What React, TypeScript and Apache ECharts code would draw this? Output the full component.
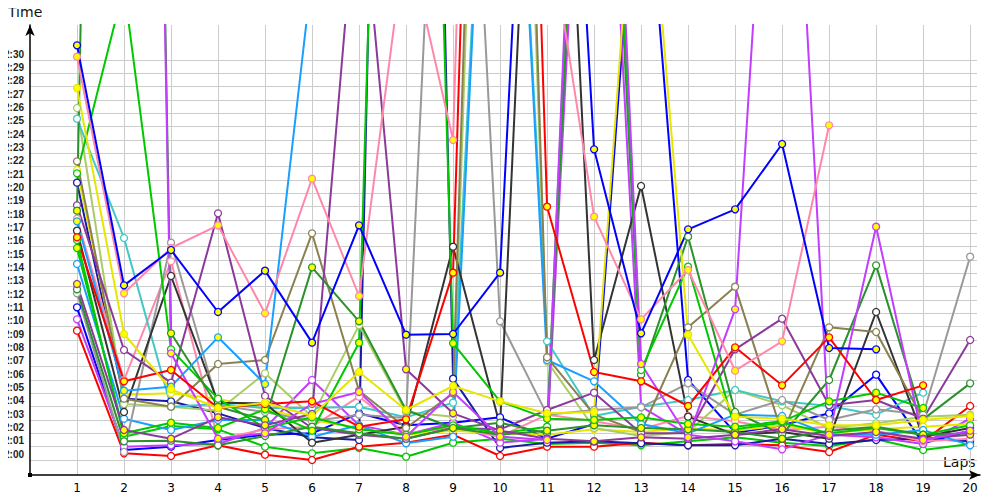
import React, { useEffect, useRef } from "react";
import * as echarts from "echarts";

// Lap numbers (x axis)
const laps = [1, 2, 3, 4, 5, 6, 7, 8, 9, 10, 11, 12, 13, 14, 15, 16, 17, 18, 19, 20];
// Y tick labels, 2:00 .. 2:30
const yTickLabels = [
  "2:00", "2:01", "2:02", "2:03", "2:04", "2:05", "2:06", "2:07", "2:08", "2:09", "2:10",
  "2:11", "2:12", "2:13", "2:14", "2:15", "2:16", "2:17", "2:18", "2:19", "2:20",
  "2:21", "2:22", "2:23", "2:24", "2:25", "2:26", "2:27", "2:28", "2:29", "2:30",
];

// Lap times in seconds per driver (null = no lap)
const blueA = [151.1, 133.1, 135.75, 131.1, 134.2, 128.8, 137.6, 129.4, 129.45, 134.05, 204, 143.3, 129.5, 137.3, 138.8, 143.7, 128.4, 128.3, null, null];
const pinkA = [150.25, 132.5, 135.9, 137.6, 131.0, 141.1, 132.3, 159.5, 144.0, 260, 161, 138.25, 130.55, 134.25, 126.7, 128.9, 145.1, null, null, null];
const yellowA = [147.9, 129.45, 125.3, 123.9, 124.3, 123.3, 126.6, 123.75, 125.55, 124.4, 123.5, 123.6, 172, 129.4, 123.25, 123.1, 122.6, 122.6, 123.0, 123.3];
const redA = [136.7, 125.9, 126.75, 123.9, 124.2, 124.4, 122.5, 123.05, 134.05, 250, 139.0, 126.6, 125.9, 124.05, 128.45, 125.6, 129.2, 124.5, 125.6, null];
const redB = [129.7, 120.5, 120.3, 121.1, 120.4, 120.0, 121.0, 121.3, 121.9, 120.3, 121.0, 121.0, 121.3, 121.1, 121.2, 121.1, 120.6, 121.9, 121.4, 124.05];
const purpleA = [139.1, 128.25, 125.8, 138.5, 124.8, 122.4, 121.9, 121.6, 122.4, 122.3, 123.75, 125.05, 122.0, 122.0, 128.3, 130.6, 124.1, 124.5, 123.1, 129.0];
const purpleB = [133.2, 122.25, 121.6, 123.2, 122.6, 123.45, 165, 126.8, 123.5, 122.2, 121.6, 121.4, 121.7, 121.6, 121.9, 122.3, 121.8, 122.1, 121.6, 121.9];
const violetA = [130.55, 121.0, 121.1, 121.2, 122.4, 126.0, 122.6, 121.9, 122.8, 121.3, 121.6, 190, 124.0, 121.9, 121.4, 120.8, 121.9, 121.7, 121.2, 123.1];
const violetB = [null, 320, 128.0, 121.6, 122.0, 124.2, 125.1, 121.75, 125.1, 121.75, 121.5, 205, 127.2, 121.7, 131.3, 187, 121.9, 137.5, 121.5, 122.2];
const greenA = [141.5, 155.5, 128.3, 124.6, 122.4, 123.2, 122.3, 121.9, 122.6, 122.0, 122.5, 200, 126.75, 134.5, 122.3, 122.8, 122.0, 122.4, 121.9, 122.6];
const greenB = [135.9, 122.0, 122.8, 122.4, 123.8, 122.2, 128.8, 250, 128.75, 124.4, 123.1, 123.0, 123.2, 122.7, 122.5, 122.9, 124.4, 125.05, 123.9, null];
const greenC = [136.5, 121.75, 122.55, 122.3, 121.0, 120.5, 120.9, 120.25, 121.3, 121.6, 121.2, 121.3, 121.1, 121.4, 121.7, 121.3, 121.05, 121.55, 120.75, 121.2];
const darkGreenA = [138.7, 320, 129.5, 124.0, 123.0, 134.45, 130.4, 123.75, 122.4, 121.9, 122.2, 122.6, 122.4, 122.3, 122.1, 121.6, 122.2, 122.5, 121.9, 122.0];
const darkGreenB = [132.8, 121.4, 121.45, 121.1, 121.8, 122.5, 122.0, 121.6, 122.4, 122.8, 122.0, 195, 126.4, 136.75, 123.6, 121.9, 126.0, 134.6, 123.05, 125.75];
const gray = [132.5, 120.6, 136.3, 124.1, 123.6, 122.9, 123.4, 123.15, 198, 130.4, 123.4, 123.75, 123.95, 125.75, 123.4, 124.5, 123.0, 123.8, 123.4, 135.25];
const darkGray = [137.2, 123.6, 133.8, 124.3, 124.25, 121.3, 121.9, 122.5, 136.0, 122.55, 199, 127.5, 140.55, 123.25, 121.9, 122.1, 121.6, 131.1, 121.75, 122.4];
const olive = [142.4, 124.6, 124.0, 127.2, 127.5, 137.0, 125.2, 122.4, 125.0, 240, 127.7, 123.4, 122.1, 129.95, 133.0, 122.0, 129.95, 129.6, 123.05, null];
const yellowGreen = [146.4, 124.2, 124.0, 123.7, 126.5, 123.25, 130.1, 123.6, 123.25, 230, 127.4, 122.4, 121.8, 122.1, 125.25, 124.1, 122.4, 122.75, 123.25, 123.4];
const cyan = [145.6, 136.65, 124.0, 124.2, 123.9, 123.9, 124.0, 123.2, 124.3, 195, 128.9, 123.3, 124.0, 124.5, 125.25, 124.4, 124.05, 123.4, 125.05, null];
const lightBlueA = [137.9, 125.2, 125.5, 129.2, 125.7, 156.5, null, null, null, null, null, null, null, null, null, null, null, null, null, null];
const lightBlueB = [134.7, 123.1, 122.25, 123.0, 123.0, 121.75, 122.6, 121.25, 121.75, 195, 127.5, 125.9, 122.7, 122.0, 123.4, 123.3, 121.9, 121.9, 122.25, 121.1];
const navy = [140.8, 124.6, 124.4, 123.5, 122.4, 121.7, 121.5, 280, 126.1, 120.9, 121.3, 121.4, 121.25, 121.1, 121.1, 121.6, 121.2, 121.5, 121.6, 121.4];
const blueB = [131.45, 120.75, 121.0, 121.5, 121.9, 122.0, 123.5, 122.6, 122.8, 123.2, 121.6, 122.7, 170, 126.0, 122.05, 122.6, 123.5, 126.4, 121.25, 122.2];
const pinkB = [138.1, 126.0, 134.9, 121.55, 122.3, 122.5, 124.75, 122.0, 122.4, 121.75, 123.4, 122.9, 122.3, 123.3, 122.9, 122.25, 122.5, 122.2, 121.4, 121.6];
const yellowB = [141.75, 124.9, 125.0, 124.6, 123.8, 123.0, 122.4, 121.9, 122.2, 122.0, 121.9, 122.3, 122.1, 122.4, 122.2, 122.6, 122.0, 122.3, 122.5, 122.7];

const FILL = "#ffff00";
const WHITE = "#ffffff";

const drivers = [
  { name: "D1", color: "#00c800", fill: WHITE, data: greenC },
  { name: "D2", color: "#ff0000", fill: WHITE, data: redB },
  { name: "D3", color: "#1a1aa8", fill: WHITE, data: navy },
  { name: "D4", color: "#0000ff", fill: WHITE, data: blueB },
  { name: "D5", color: "#c33cff", fill: WHITE, data: violetA },
  { name: "D6", color: "#ff88aa", fill: WHITE, data: pinkB },
  { name: "D7", color: "#e6e600", fill: WHITE, data: yellowB },
  { name: "D8", color: "#aacc66", fill: WHITE, data: yellowGreen },
  { name: "D9", color: "#40c8c8", fill: WHITE, data: cyan },
  { name: "D10", color: "#1a9fff", fill: WHITE, data: lightBlueB },
  { name: "D11", color: "#999999", fill: WHITE, data: gray },
  { name: "D12", color: "#333333", fill: WHITE, data: darkGray },
  { name: "D13", color: "#8a8050", fill: WHITE, data: olive },
  { name: "D14", color: "#8b3a9b", fill: WHITE, data: purpleA },
  { name: "D15", color: "#2a922a", fill: WHITE, data: darkGreenB },
  { name: "D16", color: "#00c800", fill: WHITE, data: greenA },
  { name: "D17", color: "#2a922a", fill: FILL, data: darkGreenA },
  { name: "D18", color: "#00c800", fill: FILL, data: greenB },
  { name: "D19", color: "#8b3a9b", fill: FILL, data: purpleB },
  { name: "D20", color: "#c33cff", fill: FILL, data: violetB },
  { name: "D21", color: "#1a9fff", fill: FILL, data: lightBlueA },
  { name: "D22", color: "#ff0000", fill: FILL, data: redA },
  { name: "D23", color: "#e6e600", fill: FILL, data: yellowA },
  { name: "D24", color: "#ff88aa", fill: FILL, data: pinkA },
  { name: "D25", color: "#0000ff", fill: FILL, data: blueA },
];

export default function App() {
  const ref = useRef<HTMLDivElement>(null);
  useEffect(() => {
    if (!ref.current) return;
    const chart = echarts.init(ref.current, null, { renderer: "svg" });
    const series: any[] = drivers.map((d) => ({
      type: "line",
      name: d.name,
      xAxisIndex: 0,
      yAxisIndex: 0,
      data: laps
        .map((l, i) => [l, d.data[i]])
        .filter((p) => p[1] !== null && p[1] !== undefined),
      symbol: "circle",
      symbolSize: 7,
      showSymbol: true,
      clip: true,
      silent: true,
      lineStyle: { color: d.color, width: 2 },
      itemStyle: { color: d.fill, borderColor: d.color, borderWidth: 1.3 },
      emphasis: { disabled: true },
    }));
    const baseGraphic: any[] = [
      {
        type: "text",
        id: "tTime",
        left: 8,
        top: 5,
        style: { text: "Time", fontSize: 14, fontFamily: "DejaVu Sans", fill: "#111" },
      },
      {
        type: "text",
        id: "tLaps",
        left: 943,
        top: 455,
        style: { text: "Laps", fontSize: 14, fontFamily: "DejaVu Sans", fill: "#111" },
      },
      {
        type: "rect",
        id: "origin",
        shape: { x: 28, y: 473, width: 4, height: 4 },
        style: { fill: "#000" },
        z: 100,
      },
    ];
    chart.setOption({
      animation: false,
      backgroundColor: "#ffffff",
      grid: [
        { left: 30, right: 20, top: 25, bottom: 25, containLabel: false },
        { left: 30, right: 23, top: 60, bottom: 40, containLabel: false },
      ],
      xAxis: [
        {
          type: "value",
          gridIndex: 0,
          min: 0,
          max: 20.21,
          interval: 1,
          axisLine: {
            show: true,
            lineStyle: { color: "#000", width: 1.5 },
            symbol: ["none", "arrow"],
            symbolSize: [7, 11],
          },
          axisTick: { show: false },
          axisLabel: {
            show: true,
            color: "#000",
            fontSize: 12,
            fontFamily: "DejaVu Sans",
            margin: 7,
            formatter: (v: number) => (v >= 1 && Number.isInteger(v) ? String(v) : ""),
          },
          splitLine: {
            show: true,
            showMinLine: false,
            showMaxLine: false,
            lineStyle: { color: "#cccccc", width: 1 },
          },
        },
        { type: "value", gridIndex: 1, min: 0, max: 20, show: false },
      ],
      yAxis: [
        {
          type: "value",
          gridIndex: 0,
          min: 118.875,
          max: 152.625,
          axisLine: {
            show: true,
            lineStyle: { color: "#000", width: 1.5 },
            symbol: ["none", "arrow"],
            symbolSize: [7, 11],
          },
          axisTick: { show: false },
          axisLabel: { show: false },
          splitLine: { show: false },
        },
        {
          type: "value",
          gridIndex: 1,
          min: 120,
          max: 150,
          interval: 1,
          axisLine: { show: false },
          axisTick: { show: false },
          axisLabel: { show: false },
          splitLine: { show: true, lineStyle: { color: "#cccccc", width: 1 } },
        },
      ],
      graphic: baseGraphic,
      series,
    });
    // y tick labels placed through the axis scale, baseline on each grid line
    const labels = yTickLabels.map((t, i) => {
      const y = chart.convertToPixel({ yAxisIndex: 1 } as any, 120 + i) as number;
      return {
        type: "text",
        id: "yl" + i,
        x: 4,
        y: y - 1,
        style: {
          text: t,
          fontSize: 10,
          fontWeight: "bold",
          fontFamily: "Liberation Sans",
          fill: "#222",
          textAlign: "left",
          verticalAlign: "bottom",
        },
      };
    });
    chart.setOption({ graphic: [...baseGraphic, ...labels] });
    return () => chart.dispose();
  }, []);
  return <div ref={ref} style={{ width: 1000, height: 500, margin: "-8px" }} />;
}
